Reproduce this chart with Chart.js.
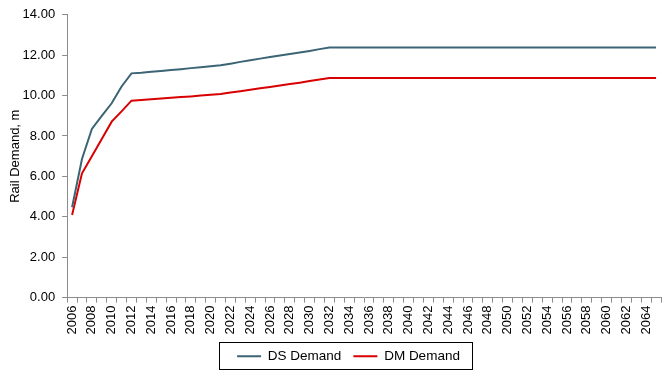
<!DOCTYPE html>
<html>
<head>
<meta charset="utf-8">
<script src="https://cdn.jsdelivr.net/npm/chart.js@4"></script>
<style>
  body { margin: 0; background: #fff; }
  #wrap { width: 670px; height: 376px; }
</style>
</head>
<body>
<div id="wrap"><canvas id="rail-chart" width="670" height="376"></canvas></div>
<script>
const years = [];
for (let y = 2006; y <= 2065; y++) years.push(String(y));

const dsDemand = [
  4.47, 6.86, 8.35, 9.00, 9.62, 10.45, 11.10, 11.13, 11.18, 11.22,
  11.27, 11.31, 11.36, 11.40, 11.45, 11.50, 11.58, 11.67, 11.75, 11.83,
  11.91, 11.99, 12.06, 12.13, 12.21, 12.30, 12.38, 12.38, 12.38, 12.38,
  12.38, 12.38, 12.38, 12.38, 12.38, 12.38, 12.38, 12.38, 12.38, 12.38,
  12.38, 12.38, 12.38, 12.38, 12.38, 12.38, 12.38, 12.38, 12.38, 12.38,
  12.38, 12.38, 12.38, 12.38, 12.38, 12.38, 12.38, 12.38, 12.38, 12.38
];
const dmDemand = [
  4.09, 6.15, 7.00, 7.85, 8.71, 9.22, 9.75, 9.78, 9.82, 9.86,
  9.89, 9.93, 9.96, 10.00, 10.04, 10.08, 10.15, 10.22, 10.29, 10.36,
  10.43, 10.50, 10.57, 10.64, 10.72, 10.80, 10.87, 10.87, 10.87, 10.87,
  10.87, 10.87, 10.87, 10.87, 10.87, 10.87, 10.87, 10.87, 10.87, 10.87,
  10.87, 10.87, 10.87, 10.87, 10.87, 10.87, 10.87, 10.87, 10.87, 10.87,
  10.87, 10.87, 10.87, 10.87, 10.87, 10.87, 10.87, 10.87, 10.87, 10.87
];
const yTicks = { min: 0, max: 14, step: 2 };

const FONT = "'Liberation Sans', Arial, sans-serif";
const LEGEND_SHIFT = 14;

// nudge the legend right a bit and draw the thin box around it, like Excel
const legendBorder = {
  id: "legendBorder",
  afterLayout(chart) {
    chart.legend.left += LEGEND_SHIFT;
    chart.legend.right += LEGEND_SHIFT;
  },
  afterDraw(chart) {
    const boxes = chart.legend && chart.legend.legendHitBoxes;
    if (!boxes || !boxes.length) return;
    const left = Math.min(...boxes.map(b => b.left)) - 18;
    const right = Math.max(...boxes.map(b => b.left + b.width)) + 12;
    const top = Math.min(...boxes.map(b => b.top)) - 8;
    const bottom = Math.max(...boxes.map(b => b.top + b.height)) + 5;
    const c = chart.ctx;
    c.save();
    c.strokeStyle = "#000";
    c.lineWidth = 1;
    c.strokeRect(Math.round(left) + 0.5, Math.round(top) + 0.5, Math.round(right - left), Math.round(bottom - top));
    c.restore();
  }
};

new Chart(document.getElementById("rail-chart"), {
  type: "line",
  data: {
    labels: years,
    datasets: [
      {
        label: "DS Demand",
        data: dsDemand,
        borderColor: "#3b6474",
        backgroundColor: "#3b6474",
        borderWidth: 2,
        pointRadius: 0,
        tension: 0,
        fill: false,
      },
      {
        label: "DM Demand",
        data: dmDemand,
        borderColor: "#d80000",
        backgroundColor: "#d80000",
        borderWidth: 2,
        pointRadius: 0,
        tension: 0,
        fill: false,
      },
    ],
  },
  plugins: [legendBorder],
  options: {
    responsive: false,
    animation: false,
    layout: { padding: { left: 8, right: 9, top: 11, bottom: 3 } },
    plugins: {
      tooltip: { enabled: false },
      legend: {
        position: "bottom",
        labels: {
          color: "#000",
          font: { family: FONT, size: 13.5 },
          boxWidth: 24,
          boxHeight: 2,
          padding: 12,
          generateLabels(chart) {
            return Chart.defaults.plugins.legend.labels.generateLabels(chart)
              .map(item => Object.assign(item, { lineWidth: 0 }));
          },
        },
      },
    },
    scales: {
      x: {
        offset: true,
        // the last year has no label, so no need for room on the right
        afterFit(scale) {
          scale.paddingRight = 0;
        },
        grid: {
          offset: true,
          drawOnChartArea: false,
          color: "#8c8c8c",
          tickLength: 5,
        },
        border: { color: "#8c8c8c", width: 1 },
        ticks: {
          autoSkip: false,
          minRotation: 90,
          maxRotation: 90,
          color: "#000",
          font: { family: FONT, size: 13 },
          padding: 3,
          callback: function (value, index) {
            return index % 2 === 0 ? years[index] : "";
          },
        },
      },
      y: {
        min: yTicks.min,
        max: yTicks.max,
        grid: {
          drawOnChartArea: false,
          color: "#8c8c8c",
          tickLength: 5,
        },
        border: { color: "#8c8c8c", width: 1 },
        title: {
          display: true,
          text: "Rail Demand, m",
          color: "#000",
          font: { family: FONT, size: 13 },
          padding: { top: 0, bottom: -8 },
        },
        ticks: {
          stepSize: yTicks.step,
          color: "#000",
          font: { family: FONT, size: 13 },
          padding: 7,
          callback: (v) => v.toFixed(2),
        },
      },
    },
  },
});
</script>
</body>
</html>
